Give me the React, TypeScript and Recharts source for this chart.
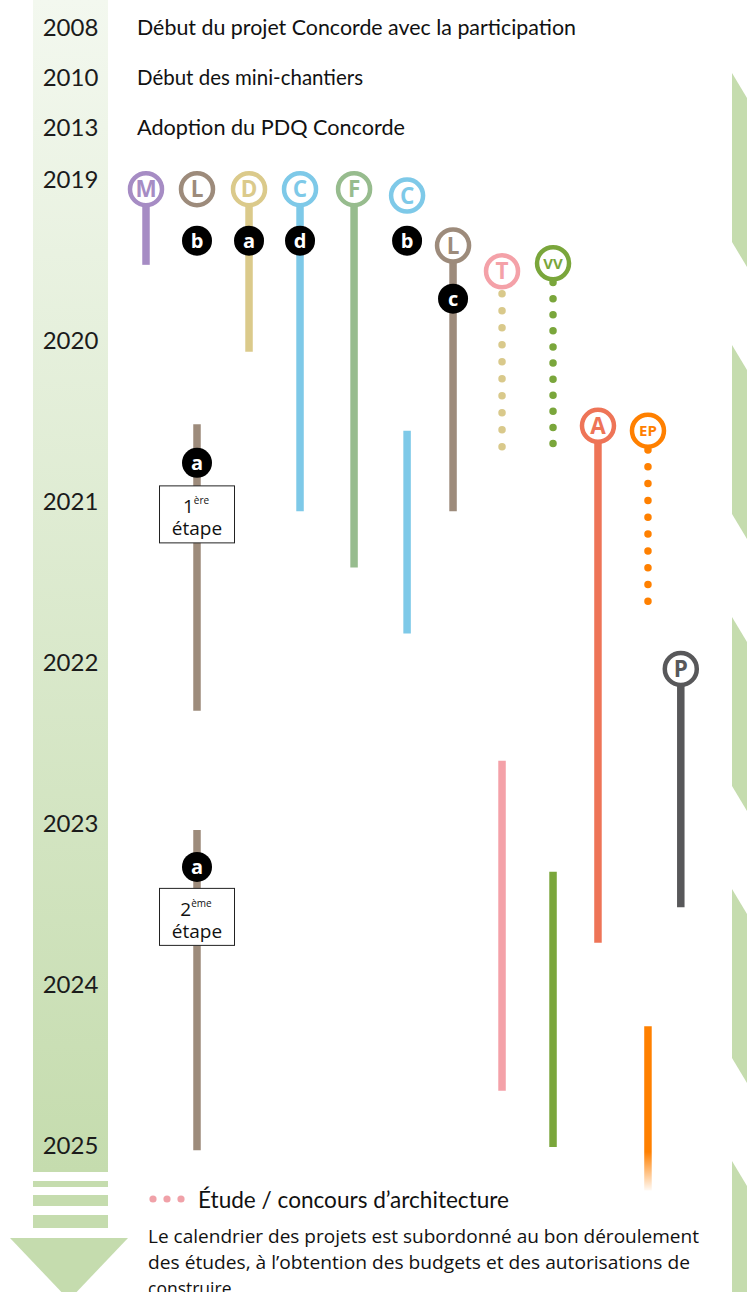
import React from 'react';
import { ComposedChart, XAxis, YAxis, Scatter, ReferenceLine, ReferenceArea } from 'recharts';

const W = 747;
const H = 1292;

// ---------------- data ----------------
const headerYears = ['2008', '2010', '2013'];
const headerTexts = [
  'Début du projet Concorde avec la participation',
  'Début des mini-chantiers',
  'Adoption du PDQ Concorde',
];
const yearTicks = [2019, 2020, 2021, 2022, 2023, 2024, 2025];

const projectCodes = ['M', 'L', 'D', 'C', 'F', 'C', 'L', 'T', 'VV', 'A', 'EP', 'P'];
const projectColors = ['#a68cc4', '#9d8b7b', '#dbca8b', '#7ec9e8', '#97bc8e', '#7ec9e8', '#9d8b7b', '#f4a1a8', '#7aa63b', '#ee7457', '#ff8000', '#58585a'];
const projectColumns = [0, 1.01, 2.04, 3.05, 4.12, 5.17, 6.08, 7.05, 8.06, 8.95, 9.94, 10.59];
const projectStarts = [2019.06, 2019.06, 2019.06, 2019.06, 2019.06, 2019.1, 2019.41, 2019.57, 2019.52, 2020.53, 2020.56, 2022.04];

// works (solid) segments
const workProject = [0, 2, 3, 4, 5, 6, 1, 1, 7, 8, 9, 10, 11];
const workFrom = [2019.06, 2019.06, 2019.06, 2019.06, 2020.56, 2019.41, 2020.52, 2023.04, 2022.61, 2023.3, 2020.53, 2024.26, 2022.04];
const workTo = [2019.53, 2020.07, 2021.06, 2021.41, 2021.82, 2021.06, 2022.3, 2025.03, 2024.66, 2025.01, 2023.74, 2025.28, 2023.52];
const fadingWork = 11;

// studies (dotted) segments
const studyProject = [7, 8, 10];
const studyColors = ['#d9c98b', '#7aa63b', '#ff8000'];
const studyFrom = [2019.71, 2019.64, 2020.68];
const studyTo = [2020.66, 2020.64, 2021.62];
const studyDots = [10, 11, 10];

// letter badges
const badgeLetters = ['b', 'a', 'd', 'b', 'c', 'a', 'a'];
const badgeProject = [1, 2, 3, 5, 6, 1, 1];
const badgeYears = [2019.38, 2019.38, 2019.38, 2019.38, 2019.74, 2020.76, 2023.27];

// phases
const phaseNumbers = ['1', '2'];
const phaseSuffix = ['ère', 'ème'];
const phaseYears = [2021.08, 2023.58];
const phaseProject = 1;

const legendText = 'Étude / concours d’architecture';
const noteLines = [
  'Le calendrier des projets est subordonné au bon déroulement',
  'des études, à l’obtention des budgets et des autorisations de',
  'construire',
];

// ---------------- layout ----------------
const X0 = -2.8911;
const X1 = 11.901;
const Y0 = 2017.8851;
const Y1 = 2025.9099;
const yPx = (v: number) => ((v - Y0) / (Y1 - Y0)) * H;
const xVal = (px: number) => X0 + (px / W) * (X1 - X0);
const yVal = (px: number) => Y0 + (px / H) * (Y1 - Y0);

const GREEN = '#c5dcae';
const BAND_L = 33;
const BAND_R = 108;
const stripes = [[1181, 1187], [1195, 1206], [1215, 1228]];
const chevronTops = [73, 345, 617, 889, 1161];
const CHEV_H = 169;

const chevronShape = (p: any) => {
  const { x, y, width, height } = p;
  const s = (25 / 15) * width;
  return (
    <polygon
      points={`${x},${y} ${x + width},${y + s} ${x + width},${y + height + s} ${x},${y + height}`}
      fill={GREEN}
    />
  );
};

const triangleShape = (p: any) => {
  const { x, y, width } = p;
  return <polygon points={`${x},${y} ${x + width},${y} ${x + width / 2},${y + 62}`} fill={GREEN} />;
};

const YearTick = (props: any) => {
  const { y, payload } = props;
  return (
    <text x={70.5} y={y + 8.5} textAnchor="middle" fontFamily="Lato" fontSize={24} fill="#1b1b1b">
      {payload.value}
    </text>
  );
};

const CircleShape = (props: any) => {
  const { cx, cy, payload } = props;
  const small = payload.code.length > 1;
  return (
    <g>
      <circle cx={cx} cy={cy} r={16} fill="#fff" stroke={payload.color} strokeWidth={4.5} />
      <text
        x={cx}
        y={cy + (small ? 5.5 : 8)}
        textAnchor="middle"
        fontFamily="Open Sans"
        fontWeight={700}
        fontSize={small ? 15 : 22.5}
        fill={payload.color}
      >
        {payload.code}
      </text>
    </g>
  );
};

const BadgeShape = (props: any) => {
  const { cx, cy, payload } = props;
  return (
    <g>
      <circle cx={cx} cy={cy} r={15} fill="#000" />
      <text x={cx} y={cy + 7} textAnchor="middle" fontFamily="Open Sans" fontWeight={700} fontSize={20} fill="#fff">
        {payload.letter}
      </text>
    </g>
  );
};

const PhaseShape = (props: any) => {
  const { cx, cy, payload } = props;
  return (
    <g>
      <rect x={cx - 37.5} y={cy - 28.5} width={75} height={57} fill="#fff" stroke="#222" strokeWidth={1} />
      <text x={cx - 1} y={cy - 1} textAnchor="middle" fontFamily="Open Sans" fontSize={19} fill="#111">
        {payload.num}
        <tspan fontSize={10} dy={-9}>{payload.suffix}</tspan>
      </text>
      <text x={cx} y={cy + 21} textAnchor="middle" fontFamily="Open Sans" fontSize={19} fill="#111">
        étape
      </text>
    </g>
  );
};

export default function App() {
  const circles = projectCodes.map((code, i) => ({ x: projectColumns[i], y: projectStarts[i], code, color: projectColors[i] }));
  const badges = badgeLetters.map((letter, i) => ({ x: projectColumns[badgeProject[i]], y: badgeYears[i], letter }));
  const phases = phaseNumbers.map((num, i) => ({ x: projectColumns[phaseProject], y: phaseYears[i], num, suffix: phaseSuffix[i] }));

  return (
    <div style={{ position: 'relative', width: W, height: H, overflow: 'hidden' }}>
      <style>{`body{margin:0}`}</style>
      <svg width={0} height={0} style={{ position: 'absolute' }}>
        <defs>
          <linearGradient id="bandGrad" x1="0" y1="0" x2="0" y2="1">
            <stop offset="0" stopColor="#f3f8ef" />
            <stop offset="1" stopColor={GREEN} />
          </linearGradient>
          <linearGradient id="epFade" gradientUnits="userSpaceOnUse" x1="0" y1={yPx(2025.04)} x2="0" y2={yPx(2025.29)}>
            <stop offset="0" stopColor="#ff8000" stopOpacity={1} />
            <stop offset="1" stopColor="#ff8000" stopOpacity={0} />
          </linearGradient>
        </defs>
      </svg>
      <ComposedChart width={W} height={H} margin={{ top: 0, right: 0, bottom: 0, left: 0 }}>
        <XAxis type="number" dataKey="x" domain={[X0, X1]} allowDataOverflow hide />
        <YAxis
          type="number"
          dataKey="y"
          domain={[Y0, Y1]}
          allowDataOverflow
          reversed
          mirror
          ticks={yearTicks}
          tick={<YearTick />}
          axisLine={false}
          tickLine={false}
          interval={0}
        />
        <ReferenceArea x1={xVal(BAND_L)} x2={xVal(BAND_R)} y1={Y0} y2={yVal(1172)} fill="url(#bandGrad)" fillOpacity={1} stroke="none" ifOverflow="visible" />
        {stripes.map((s, i) => (
          <ReferenceArea key={`st${i}`} x1={xVal(BAND_L)} x2={xVal(BAND_R)} y1={yVal(s[0])} y2={yVal(s[1])} fill={GREEN} fillOpacity={1} stroke="none" ifOverflow="visible" />
        ))}
        <ReferenceArea x1={xVal(10)} x2={xVal(128)} y1={yVal(1238)} y2={Y1} shape={triangleShape} ifOverflow="visible" />
        {chevronTops.map((t, i) => (
          <ReferenceArea key={`ch${i}`} x1={xVal(732)} x2={X1} y1={yVal(t)} y2={Math.min(Y1, yVal(t + CHEV_H))} shape={chevronShape} ifOverflow="visible" />
        ))}

        {workProject.map((p, i) => (
          <ReferenceLine
            key={`w${i}`}
            segment={[{ x: projectColumns[p], y: workFrom[i] }, { x: projectColumns[p], y: workTo[i] }]}
            stroke={i === fadingWork ? 'url(#epFade)' : projectColors[p]}
            strokeWidth={7.5}
            ifOverflow="visible"
          />
        ))}
        {studyProject.map((p, i) => {
          const len = yPx(studyTo[i]) - yPx(studyFrom[i]);
          const gap = len / (studyDots[i] - 1);
          return (
            <ReferenceLine
              key={`s${i}`}
              segment={[{ x: projectColumns[p], y: studyFrom[i] }, { x: projectColumns[p], y: studyTo[i] + 0.001 }]}
              stroke={studyColors[i]}
              strokeWidth={7.5}
              strokeLinecap="round"
              strokeDasharray={`0 ${gap}`}
              ifOverflow="visible"
            />
          );
        })}

        <Scatter data={circles} shape={<CircleShape />} isAnimationActive={false} />
        <Scatter data={badges} shape={<BadgeShape />} isAnimationActive={false} />
        <Scatter data={phases} shape={<PhaseShape />} isAnimationActive={false} />
      </ComposedChart>

      <svg width={W} height={H} style={{ position: 'absolute', left: 0, top: 0, pointerEvents: 'none' }}>
        {headerYears.map((y, i) => (
          <text key={`hy${i}`} x={70.5} y={36 + i * 49.8} textAnchor="middle" fontFamily="Lato" fontSize={24} fill="#1b1b1b">
            {y}
          </text>
        ))}
        {headerTexts.map((t, i) => (
          <text
            key={`ht${i}`}
            x={137}
            y={35.3 + i * 49.8}
            fontFamily="Lato"
            fontSize={20.5}
            fill="#111"
            textLength={[439, 226, 268][i]}
            lengthAdjust="spacingAndGlyphs"
          >
            {t}
          </text>
        ))}
        {[153, 167, 181].map((cx, i) => (
          <circle key={`ld${i}`} cx={cx} cy={1199} r={3.6} fill="#f0a1a8" />
        ))}
        <text x={198} y={1207.5} fontFamily="Lato" fontSize={22.5} fill="#111" textLength={311} lengthAdjust="spacingAndGlyphs">
          {legendText}
        </text>
        {noteLines.map((t, i) => (
          <text
            key={`n${i}`}
            x={148}
            y={1243 + i * 26}
            fontFamily="Open Sans"
            fontSize={17.5}
            fill="#111"
            {...(i < 2 ? { textLength: [551, 542][i], lengthAdjust: 'spacingAndGlyphs' } : {})}
          >
            {t}
          </text>
        ))}
      </svg>
    </div>
  );
}
